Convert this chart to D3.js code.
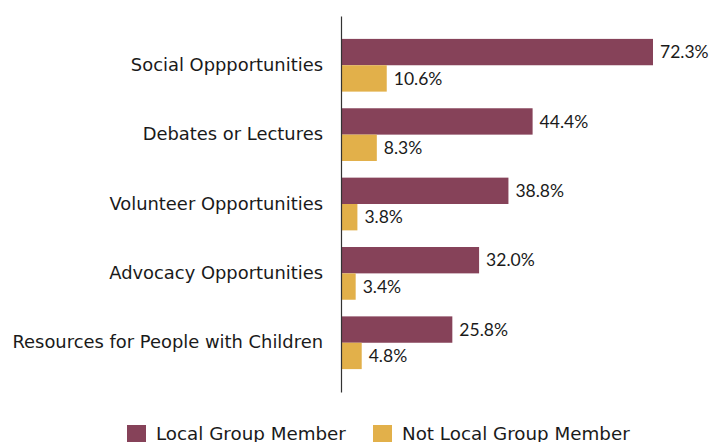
<!DOCTYPE html>
<html>
<head>
<meta charset="utf-8">
<script src="https://cdn.jsdelivr.net/npm/d3@7"></script>
<style>
  html, body { margin: 0; padding: 0; background: #fff; }
  svg text { font-family: "DejaVu Sans", sans-serif; fill: #1a1a1a; }
  svg text.value { font-family: "Lato", "DejaVu Sans", sans-serif; }
</style>
</head>
<body>
<svg id="chart" width="724" height="442"></svg>
<script>
// Share of respondents interested in each activity, by local group membership
const categories = [
  "Social Oppportunities",
  "Debates or Lectures",
  "Volunteer Opportunities",
  "Advocacy Opportunities",
  "Resources for People with Children"
];
const seriesNames = ["Local Group Member", "Not Local Group Member"];
const localMember = [72.3, 44.4, 38.8, 32.0, 25.8];
const notLocalMember = [10.6, 8.3, 3.8, 3.4, 4.8];
const colors = ["#864259", "#E2B04A"];

const svg = d3.select("#chart");
const axisX = 341, plotTop = 16, plotBottom = 392;

const y = d3.scaleBand()
  .domain(categories)
  .range([plotTop, plotBottom])
  .paddingInner(0.24)
  .paddingOuter(0.33);

const ySub = d3.scaleBand()
  .domain(seriesNames)
  .range([0, y.bandwidth()]);

const x = d3.scaleLinear()
  .domain([0, 72.3])
  .range([axisX, 653]);

const rows = categories.map((c, i) => ({
  category: c,
  values: [localMember[i], notLocalMember[i]]
}));

const groups = svg.selectAll("g.group")
  .data(rows)
  .join("g")
  .attr("class", "group")
  .attr("transform", d => `translate(0,${y(d.category)})`);

groups.selectAll("rect")
  .data(d => d.values.map((v, j) => ({ series: seriesNames[j], value: v, j })))
  .join("rect")
  .attr("x", x(0))
  .attr("y", d => ySub(d.series))
  .attr("width", d => x(d.value) - x(0))
  .attr("height", ySub.bandwidth())
  .attr("fill", d => colors[d.j]);

groups.selectAll("text.value")
  .data(d => d.values.map((v, j) => ({ series: seriesNames[j], value: v })))
  .join("text")
  .attr("class", "value")
  .attr("x", d => x(d.value) + 7)
  .attr("y", d => ySub(d.series) + ySub.bandwidth() / 2)
  .attr("dy", "0.36em")
  .attr("font-size", 17.5)
  .text(d => d.value.toFixed(1) + "%");

// Category axis on the left, line only
const yAxis = d3.axisLeft(y).tickSize(0).tickPadding(18);
const ag = svg.append("g")
  .attr("transform", `translate(${axisX},0)`)
  .call(yAxis);
ag.select(".domain").attr("stroke", "#333").attr("stroke-width", 1.2);
ag.selectAll(".tick text")
  .attr("font-size", 17.9)
  .attr("font-family", null)
  .attr("fill", null);

// Legend
const legendItems = [
  { name: seriesNames[0], color: colors[0], x: 127 },
  { name: seriesNames[1], color: colors[1], x: 373 }
];
const lg = svg.selectAll("g.legend")
  .data(legendItems)
  .join("g")
  .attr("class", "legend")
  .attr("transform", d => `translate(${d.x},425)`);
lg.append("rect")
  .attr("width", 19).attr("height", 19)
  .attr("fill", d => d.color);
lg.append("text")
  .attr("x", 29).attr("y", 9)
  .attr("dy", "0.35em")
  .attr("font-size", 18.3)
  .text(d => d.name);
</script>
</body>
</html>
